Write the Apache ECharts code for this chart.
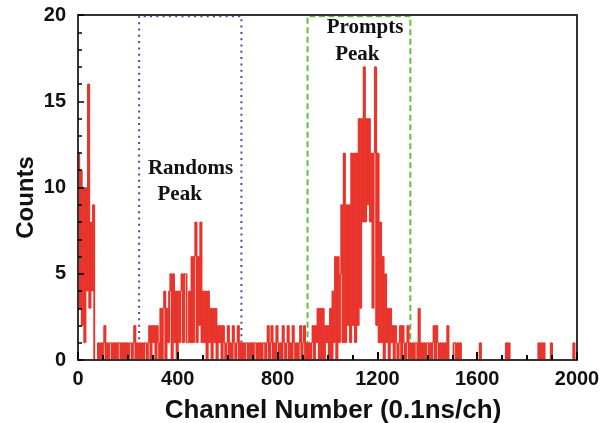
<!DOCTYPE html>
<html>
<head>
<meta charset="utf-8">
<script src="https://cdn.jsdelivr.net/npm/echarts@6/dist/echarts.min.js"></script>
<style>html,body{margin:0;padding:0;background:#fff}#c{width:613px;height:423px}</style>
</head>
<body>
<div id="c"></div>
<script>
// bin width in channels
const binWidth = 5;
// counts per 5-channel bin
const spikeCounts = [12, 3, 11, 2, 10, 1, 10, 4, 16, 3, 8, 4, 9];           // ch 0-64
const gapCounts = [0, 0, 0];                                                // ch 65-79
const baseACounts = [1,0,1,0,1,2,0,1,0,1, 1,0,1,0,1,0,1,1,0,1, 0,1,0,1,0,1,1,0,1,2, 0,1,0,1]; // ch 80-249
const randomsCounts = [
  0,1,0,1,1,0,1,2,0,2,
  1,2,0,2,1,0,3,0,3,4,
  0,3,1,4,5,0,5,1,4,0,
  4,1,4,5,1,5,5,1,1,4,
  1,6,1,6,8,1,6,2,8,1,
  4,1,4,0,4,1,3,0,3,1,
  3,0,2,1,2,0,2,1,0,1,
  2,0,1,0,2,1,0,1,2,0,
  1,0];                                                                     // ch 250-659
const baseBCounts = [
  1,0,1,1,0,1,0,1,0,1,
  1,0,1,0,1,0,1,1,0,1,
  2,0,1,2,0,1,0,2,1,0,
  1,0,2,1,0,1,2,0,1,0,
  2,1,0,1,0,1,2,0,1,2,
  0,1];                                                                     // ch 660-919
const promptsCounts = [
  0,1,0,1,2,0,2,1,3,0,
  3,0,3,0,2,1,2,0,3,0,
  4,1,6,0,6,1,5,9,1,12,
  1,9,2,9,1,12,2,12,1,12,
  2,14,3,14,8,17,8,14,9,14,
  8,12,3,12,17,2,12,1,8,1,
  6,0,5,1,3,0,3,1,2,0,
  2,1,0,1,2,0,2,1,0,1,
  2,0,1];                                                                   // ch 920-1334
const tailCounts = [
  0,1,0,1,1,0,3,0,1,0,
  1,0,1,1,0,1,0,1,2,0,
  2,1,0,1,0,1,0,1,0,2,
  0,0,0,0,1,1,0,1,0,1,
  0,0,0,0,0,0,0,0,0,0,
  0,0,0,0,0,1,0,0,0,0,
  0,0,0,0,0,0,0,0,0,0,
  0,0,0,0,0,0,1,0,1,0,
  0,0,0,0,0,0,0,0,0,0,
  0,0,0,0,0,0,0,0,0,0,
  0,0,1,0,1,0,1,0,0,0,
  0,0,1,0,0,0,0,0,0,0,
  0,0,0,0,0,0,0,0,0,0,
  1,0,0];                                                                   // ch 1335-1999
const xTicks = [0, 400, 800, 1200, 1600, 2000];
const yTicks = [0, 5, 10, 15, 20];
const randomsWindow = [245, 655];
const promptsWindow = [920, 1332];
const windowTop = 19.93;

const counts = [].concat(spikeCounts, gapCounts, baseACounts, randomsCounts, baseBCounts, promptsCounts, tailCounts);
// item: [bin start channel, count, previous bin count]
const histData = counts.map((v, i) => [i * binWidth, v, i > 0 ? counts[i - 1] : v]);

const chart = echarts.init(document.getElementById('c'), null, {renderer: 'canvas'});
const axisFont = {fontFamily: 'Liberation Sans', fontWeight: 'bold', fontSize: 20, color: '#111'};
const frameLine = {show: true, onZero: false, lineStyle: {color: '#333', width: 2}};
const xMin = xTicks[0], xMax = xTicks[xTicks.length - 1];
const yMin = yTicks[0], yMax = yTicks[yTicks.length - 1];
const histColor = '#e8342b';
chart.setOption({
  animation: false,
  backgroundColor: '#fff',
  grid: {left: 78, right: 36, top: 15, bottom: 63},
  xAxis: [
    {
      type: 'value', position: 'bottom', min: xMin, max: xMax, interval: 400, z: 10,
      axisLine: frameLine,
      axisTick: {show: true, inside: true, length: 8, lineStyle: {color: '#000', width: 2}},
      minorTick: {show: true, splitNumber: 4, length: 5, lineStyle: {color: '#000', width: 2}},
      splitLine: {show: false}, minorSplitLine: {show: false},
      axisLabel: Object.assign({margin: 9, formatter: v => String(v)}, axisFont)
    },
    {
      type: 'value', position: 'top', min: xMin, max: xMax, interval: 400, z: 10,
      axisLine: frameLine, axisTick: {show: false}, axisLabel: {show: false}, splitLine: {show: false}
    }
  ],
  yAxis: [
    {
      type: 'value', position: 'left', min: yMin, max: yMax, interval: 5, z: 10,
      axisLine: frameLine,
      axisTick: {show: true, inside: true, length: 6, lineStyle: {color: '#000', width: 1.5}},
      minorTick: {show: true, splitNumber: 5, length: 4, lineStyle: {color: '#000', width: 1.5}},
      splitLine: {show: false}, minorSplitLine: {show: false},
      axisLabel: Object.assign({margin: 12, formatter: v => String(v)}, axisFont)
    },
    {
      type: 'value', position: 'right', min: yMin, max: yMax, interval: 5, z: 10,
      axisLine: frameLine, axisTick: {show: false}, axisLabel: {show: false}, splitLine: {show: false}
    }
  ],
  series: [
    {
      type: 'custom', data: histData, xAxisIndex: 0, yAxisIndex: 0, z: 2, silent: true,
      encode: {x: 0, y: 1},
      renderItem: function (params, api) {
        const x0 = api.value(0), v = api.value(1), prev = api.value(2);
        const a = api.coord([x0, prev]);
        const b = api.coord([x0, v]);
        const c = api.coord([x0 + binWidth, v]);
        return {
          type: 'group',
          children: [
            {type: 'line', shape: {x1: a[0], y1: a[1], x2: b[0], y2: b[1]}, style: {stroke: histColor, lineWidth: 1.9}},
            {type: 'line', shape: {x1: b[0], y1: b[1], x2: c[0], y2: c[1]}, style: {stroke: histColor, lineWidth: 1}}
          ]
        };
      }
    },
    {
      type: 'line', data: [[0, 0]], symbol: 'none', lineStyle: {opacity: 0}, z: 5, silent: true,
      xAxisIndex: 0, yAxisIndex: 0,
      markArea: {
        silent: true,
        label: {show: false},
        data: [
          [{xAxis: randomsWindow[0], yAxis: 0, itemStyle: {color: 'rgba(0,0,0,0)', borderColor: '#4b4b9e', borderWidth: 2, borderType: [2, 4.3]}},
           {xAxis: randomsWindow[1], yAxis: windowTop}],
          [{xAxis: promptsWindow[0], yAxis: 0, itemStyle: {color: 'rgba(0,0,0,0)', borderColor: '#66bb44', borderWidth: 2, borderType: [6, 3.5]}},
           {xAxis: promptsWindow[1], yAxis: windowTop}]
        ]
      }
    }
  ],
  graphic: [
    {type: 'text', x: 190.5, y: 168.5, style: {text: 'Randoms', fill: '#111', font: 'bold 21px "Liberation Serif"', textAlign: 'center', textVerticalAlign: 'middle'}},
    {type: 'text', x: 179.7, y: 195, style: {text: 'Peak', fill: '#111', font: 'bold 21px "Liberation Serif"', textAlign: 'center', textVerticalAlign: 'middle'}},
    {type: 'text', x: 365, y: 27.5, style: {text: 'Prompts', fill: '#111', font: 'bold 21px "Liberation Serif"', textAlign: 'center', textVerticalAlign: 'middle'}},
    {type: 'text', x: 357.3, y: 55, style: {text: 'Peak', fill: '#111', font: 'bold 21px "Liberation Serif"', textAlign: 'center', textVerticalAlign: 'middle'}},
    {type: 'text', x: 26.7, y: 197.5, rotation: Math.PI / 2, style: {text: 'Counts', fill: '#111', font: 'bold 24px "Liberation Sans"', textAlign: 'center', textVerticalAlign: 'middle'}},
    {type: 'text', x: 333, y: 411, style: {text: 'Channel Number (0.1ns/ch)', fill: '#111', font: 'bold 26px "Liberation Sans"', textAlign: 'center', textVerticalAlign: 'middle'}}
  ]
});
</script>
</body>
</html>
